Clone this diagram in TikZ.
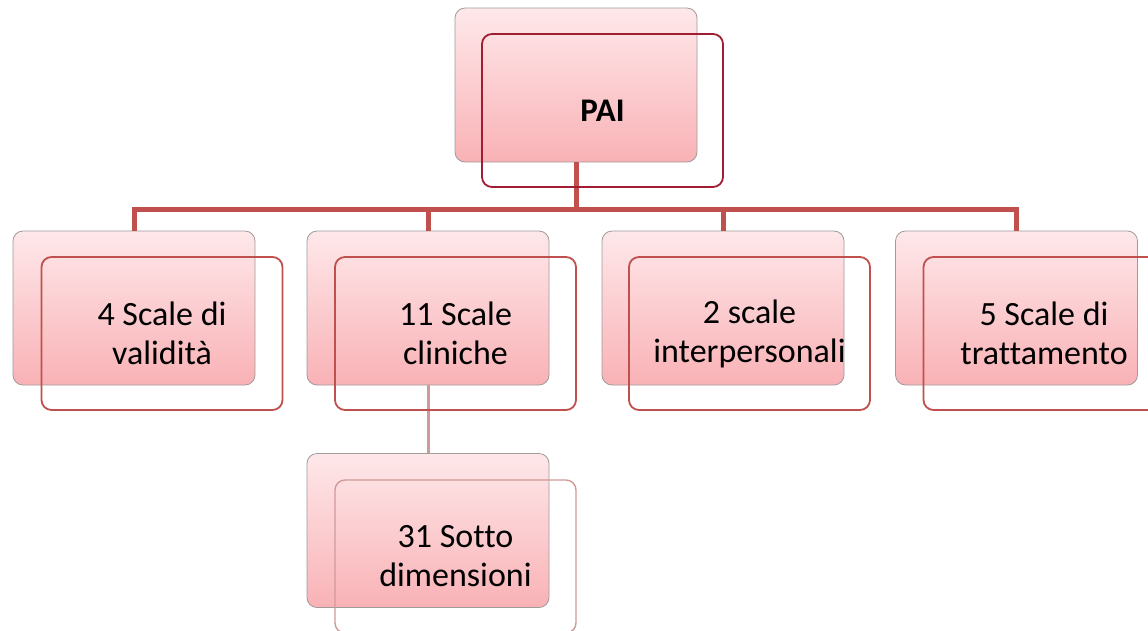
\documentclass[tikz,border=0pt]{standalone}
\usepackage{fontspec}
\setmainfont[Ligatures=NoCommon]{Carlito}
\definecolor{boxtop}{HTML}{FEE8EA}
\definecolor{boxbot}{HTML}{F9B2B6}
\definecolor{boxedge}{HTML}{A09A9A}
\definecolor{linkred}{HTML}{C0504D}
\definecolor{rootred}{HTML}{A11D33}
\definecolor{paleline}{HTML}{D09A9A}
\tikzset{
  x=1pt, y=-1pt,
  card/.style={rectangle, rounded corners=10pt, draw=boxedge, line width=0.8pt,
    top color=boxtop, bottom color=boxbot, minimum width=242pt, minimum height=154pt, inner sep=0pt},
  frame/.style={rectangle, rounded corners=10pt, line width=1.8pt,
    minimum width=241pt, minimum height=153pt, inner sep=0pt, align=center,
    font=\fontsize{34}{39}\selectfont},
  rootframe/.style={frame, draw=rootred, font=\fontsize{33}{39}\selectfont\bfseries},
  midframe/.style={frame, draw=linkred},
  lowframe/.style={frame, draw=paleline, line width=1.4pt},
  bus/.style={draw=linkred, line width=5pt, line join=miter},
  sublink/.style={draw=paleline, line width=3pt},
}
\begin{document}
\begin{tikzpicture}
\useasboundingbox (0,0) rectangle (1148,630);

% shaded cards
\node[card] (pai-bg) at (576,85) {};
\node[card] (v1-bg) at (134,308) {};
\node[card] (v2-bg) at (428,308) {};
\node[card] (v3-bg) at (723,308) {};
\node[card] (v4-bg) at (1016.5,308) {};
\node[card] (s1-bg) at (428,530.5) {};

% connectors
\coordinate (busy) at (0,209);
\draw[bus] (pai-bg.south) -- (pai-bg.south |- busy);
\draw[bus] (v1-bg.north) -- (v1-bg.north |- busy) -- (v4-bg.north |- busy) -- (v4-bg.north);
\draw[bus] (v2-bg.north |- busy) -- (v2-bg.north);
\draw[bus] (v3-bg.north |- busy) -- (v3-bg.north);
\draw[sublink] (v2-bg.south) -- (s1-bg.north);

% offset frames with the labels
\node[rootframe] (pai) at (602.5,110.5) {PAI};
\node[midframe] (v1) at (162,333.5) {4 Scale di\\validità};
\node[midframe] (v2) at (455.5,333.5) {11 Scale\\cliniche};
\node[midframe] (v3) at (749.5,333.5) {2 scale\\interpersonali};
\node[midframe] (v4) at (1044,333.5) {5 Scale di\\trattamento};
\node[lowframe] (s1) at (455.5,556.5) {31 Sotto\\dimensioni};
\end{tikzpicture}
\end{document}
